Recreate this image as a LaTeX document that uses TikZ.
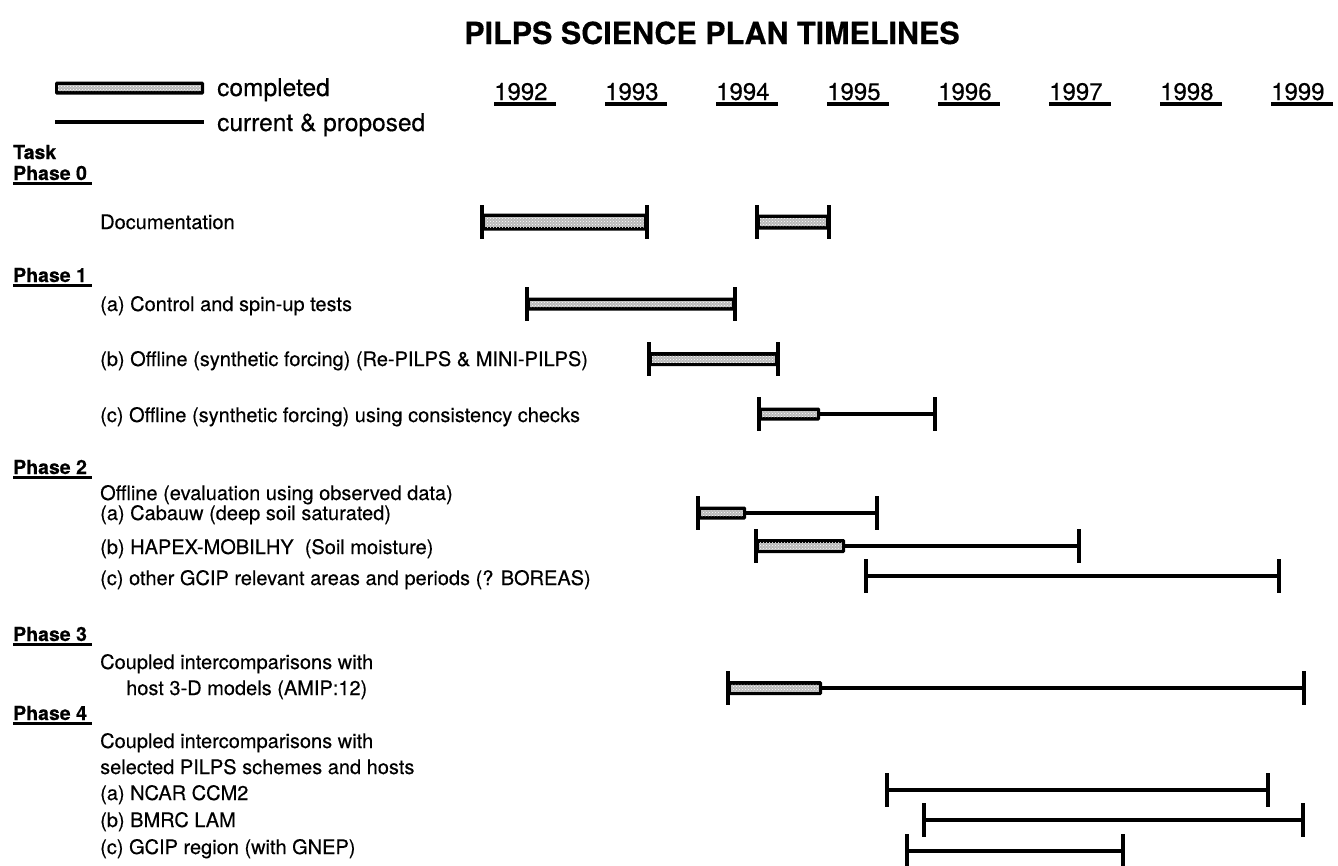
\documentclass[tikz,border=0pt]{standalone}
\usepackage{fontspec}
\setmainfont{TeX Gyre Heros}[FakeBold=0.35]
\usetikzlibrary{patterns}
\tikzset{
  body/.style={anchor=base west, inner sep=0pt, font=\fontsize{20}{24}\selectfont},
  head/.style={anchor=base west, inner sep=0pt, font=\fontsize{19.5}{22}\selectfont\bfseries},
  yr/.style={anchor=base west, inner sep=0pt, font=\fontsize{24}{28}\selectfont},
  leg/.style={anchor=base west, inner sep=0pt, font=\fontsize{24.5}{28}\selectfont},
  ttl/.style={anchor=base, inner sep=0pt, font=\fontsize{30.5}{34}\selectfont\bfseries},
  plan/.style={line width=3.2pt},
  endtick/.style={line width=3.6pt},
  uline/.style={line width=2.8pt},
  yline/.style={line width=3.4pt},
  donebar/.style={fill=black, rounded corners=1.5pt},
  doneinner/.style={preaction={fill=gray!55}, pattern=crosshatch dots, pattern color=white}
}
\newcommand\donepart[3]{%
  \fill[donebar] ([yshift=#3pt]#1) rectangle ([yshift=-#3pt]#2);
  \fill[doneinner] ([xshift=3pt,yshift=#3pt-3.5pt]#1) rectangle ([xshift=-3.5pt,yshift=-#3pt+3.5pt]#2);
}
% name, y, start, fill end, end, half height of completed bar
\newcommand\tlrow[6]{%
  \coordinate (#1-a) at (#3,#2);
  \coordinate (#1-b) at (#4,#2);
  \coordinate (#1-c) at (#5,#2);
  \draw[plan] (#1-a) -- (#1-c);
  \ifdim #4pt>#3pt \donepart{#1-a}{#1-b}{#6}\fi
  \draw[endtick] ([yshift=17pt]#1-a) -- ([yshift=-17pt]#1-a);
  \draw[endtick] ([yshift=17pt]#1-c) -- ([yshift=-17pt]#1-c);
}
\newcommand\yearlab[3]{%
  \node[yr] (#1) at (#2,100) {#3};
  \draw[yline] ([yshift=-4pt]#1.base west) -- ([yshift=-4pt,xshift=8pt]#1.base east);
}
\newcommand\phaselab[3]{%
  \node[head] (#1) at (13,#2) {#3};
  \draw[uline] ([yshift=-3.5pt]#1.base west) -- ([yshift=-3.5pt,xshift=5pt]#1.base east);
}
\begin{document}
\begin{tikzpicture}[x=1pt,y=-1pt]
\useasboundingbox (0,0) rectangle (1338,865);
% title
\node[ttl] (title) at (712,44) {PILPS SCIENCE PLAN TIMELINES};
% legend
\coordinate (lga) at (55,88);
\coordinate (lgb) at (204,88);
\donepart{lga}{lgb}{6.5}
\node[leg] (lgdone) at (217,96) {completed};
\coordinate (lpa) at (55,122);
\coordinate (lpb) at (204,122);
\draw[plan] (lpa) -- (lpb);
\node[leg] (lgplan) at (217,131) {current \& proposed};
% years
\yearlab{y92}{494}{1992}
\yearlab{y93}{605}{1993}
\yearlab{y94}{716}{1994}
\yearlab{y95}{827}{1995}
\yearlab{y96}{938}{1996}
\yearlab{y97}{1049}{1997}
\yearlab{y98}{1160}{1998}
\yearlab{y99}{1271}{1999}
% headings
\node[head] (task) at (13,159) {Task};
\phaselab{ph0}{180}{Phase 0}
\phaselab{ph1}{282}{Phase 1}
\phaselab{ph2}{474}{Phase 2}
\phaselab{ph3}{641}{Phase 3}
\phaselab{ph4}{720}{Phase 4}
% task texts
\node[body] (t0) at (100,229) {Documentation};
\node[body] (t1a) at (100,311) {(a) Control and spin-up tests};
\node[body] (t1b) at (100,366) {(b) Offline (synthetic forcing) (Re-PILPS \& MINI-PILPS)};
\node[body] (t1c) at (100,422) {(c) Offline (synthetic forcing) using consistency checks};
\node[body] (t2) at (100,500) {Offline (evaluation using observed data)};
\node[body] (t2a) at (100,520) {(a) Cabauw (deep soil saturated)};
\node[body] (t2b) at (100,554) {(b) HAPEX-MOBILHY\ \ (Soil moisture)};
\node[body] (t2c) at (100,585) {(c) other GCIP relevant areas and periods (? BOREAS)};
\node[body] (t3) at (100,669) {Coupled intercomparisons with};
\node[body] (t3b) at (126,695) {host 3-D models (AMIP:12)};
\node[body] (t4) at (100,748) {Coupled intercomparisons with};
\node[body] (t4s) at (100,774) {selected PILPS schemes and hosts};
\node[body] (t4a) at (100,800) {(a) NCAR CCM2};
\node[body] (t4b) at (100,827) {(b) BMRC LAM};
\node[body] (t4c) at (100,854) {(c) GCIP region (with GNEP)};
% timeline bars
\tlrow{b0a}{222}{482}{647}{647}{8.5}
\tlrow{b0b}{222}{757}{829}{829}{7.5}
\tlrow{b1a}{304}{527}{735}{735}{6.5}
\tlrow{b1b}{359}{649}{778}{778}{7}
\tlrow{b1c}{414}{759}{820}{935}{6.5}
\tlrow{b2a}{513}{698}{746}{877}{6.5}
\tlrow{b2b}{546}{756}{845}{1079}{7}
\tlrow{b2c}{576}{866}{866}{1279}{6}
\tlrow{b3}{688}{728}{822}{1304}{7}
\tlrow{b4a}{790}{887}{887}{1268}{6}
\tlrow{b4b}{820}{924}{924}{1303}{6}
\tlrow{b4c}{851}{907}{907}{1123}{6}
\end{tikzpicture}
\end{document}
